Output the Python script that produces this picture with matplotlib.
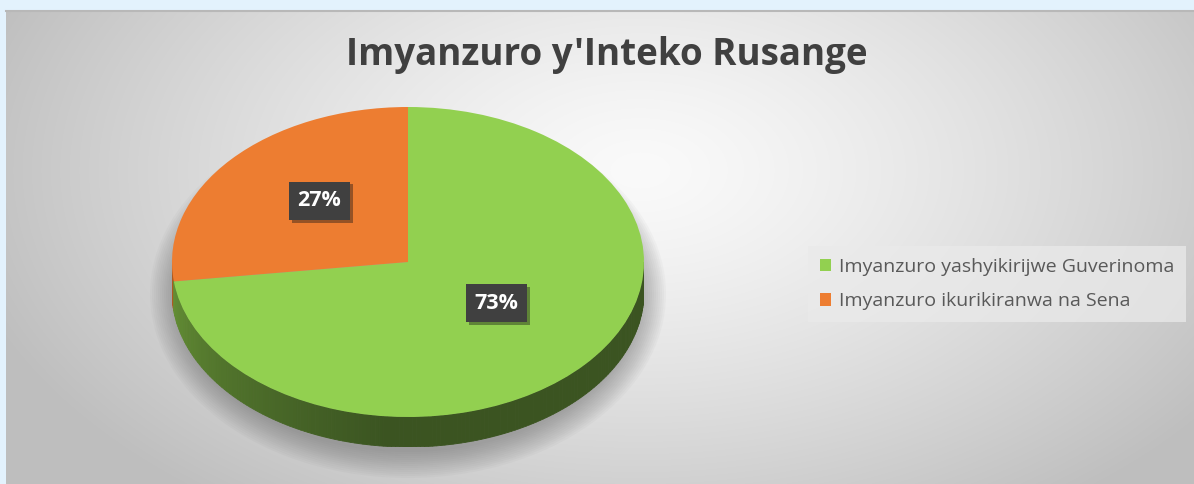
import numpy as np
import matplotlib
matplotlib.use("Agg")
from matplotlib import pyplot as plt
from matplotlib.patches import Polygon, Ellipse
import matplotlib.patheffects as pe

# data
labels = ["Imyanzuro yashyikirijwe Guverinoma", "Imyanzuro ikurikiranwa na Sena"]
shares = [73, 27]
colors = ["#92d050", "#ed7d31"]
side_light = [(0.42, 0.60, 0.22), (0.70, 0.36, 0.13)]
side_dark = [(0.23, 0.33, 0.13), (0.55, 0.27, 0.10)]
title = "Imyanzuro y'Inteko Rusange"

W, H = 1194, 484
plt.rcParams['font.family'] = ['Open Sans', 'DejaVu Sans']
fig = plt.figure(figsize=(W / 100, H / 100), dpi=100, facecolor="#e3f2fd")

# background with radial gradient
bg = fig.add_axes([0, 0, 1, 1])
bg.set_xlim(0, W)
bg.set_ylim(H, 0)
bg.axis("off")
gx, gy = np.meshgrid(np.arange(6, W), np.arange(10, H))
d = np.sqrt(((gx - 640) / 700.0) ** 2 + ((gy - 170) / 420.0) ** 2)
g = 250 - 60 * np.clip(d, 0, 1) ** 1.3
img = np.dstack([g, g, g]) / 255.0
bg.imshow(img, extent=(6, W, H, 10), aspect="auto", zorder=0)
bg.plot([6, W], [10.5, 10.5], color="#b8b8b8", lw=1.5, zorder=1)

# soft shadow under the pie
cx, cy, rx, ry, depth = 408, 262, 236, 155, 30
for k in range(14):
    bg.add_patch(Ellipse((cx, cy + 32), 2 * rx + 44 - 4 * k, 2 * ry + 58 - 4 * k,
                         fc="#555555", ec="none", alpha=0.035, zorder=2))

# pie axes: unit circle squashed to an ellipse
dd = depth / ry
ax = fig.add_axes([(cx - rx) / W, (H - (cy + ry + depth)) / H,
                   2 * rx / W, (2 * ry + depth) / H])

# side wall
cum = np.concatenate([[0], np.cumsum(shares)]) / sum(shares) * 360
th = np.linspace(180, 360, 181)
for a, b in zip(th[:-1], th[1:]):
    m = (a + b) / 2
    pos = (90 - m) % 360
    idx = int(np.searchsorted(cum, pos, side="right") - 1)
    idx = min(idx, len(shares) - 1)
    t = np.clip((m - 180) / 85.0, 0, 1) ** 0.8
    c = tuple(side_light[idx][j] * (1 - t) + side_dark[idx][j] * t for j in range(3))
    ra, rb = np.radians(a), np.radians(b)
    quad = [(np.cos(ra), np.sin(ra)), (np.cos(rb), np.sin(rb)),
            (np.cos(rb), np.sin(rb) - dd), (np.cos(ra), np.sin(ra) - dd)]
    ax.add_patch(Polygon(quad, closed=True, fc=c, ec=c, lw=0.6, zorder=1))

wedges, _, autotexts = ax.pie(shares, colors=colors, startangle=90, counterclock=False,
                              autopct="%d%%", pctdistance=0.5, radius=1,
                              wedgeprops=dict(linewidth=0, zorder=2),
                              textprops=dict(color="white", fontsize=15.5, fontweight="bold"))
ax.set_xlim(-1, 1)
ax.set_ylim(-1 - dd, 1)
ax.set_aspect("auto")
ax.axis("off")
for t in autotexts:
    x0, y0 = t.get_position()
    t.set_position((x0, y0 + 10 / ry))   # perspective lift
    t.set_zorder(5)
    t.set_bbox(dict(boxstyle="square,pad=0.4", fc="#404040", ec="none"))
    t.get_bbox_patch().set_path_effects([pe.SimplePatchShadow(offset=(2, -2), alpha=0.4),
                                         pe.Normal()])

fig.text(0.508, 1 - 55 / H, title, ha="center", va="center", fontsize=26.5,
         fontweight="bold", color="#404040")

leg = fig.legend(handles=wedges, labels=labels, loc="upper left",
                 bbox_to_anchor=(808 / W, 1 - 246 / H), frameon=True,
                 facecolor="#eaeaea", edgecolor="none", framealpha=0.75,
                 fancybox=False, fontsize=14, handlelength=0.6, handleheight=0.6,
                 handletextpad=0.4, labelspacing=0.85, borderpad=0.6, borderaxespad=0)
for txt in leg.get_texts():
    txt.set_color("#595959")

fig.savefig("out.png", dpi=100, facecolor=fig.get_facecolor())
